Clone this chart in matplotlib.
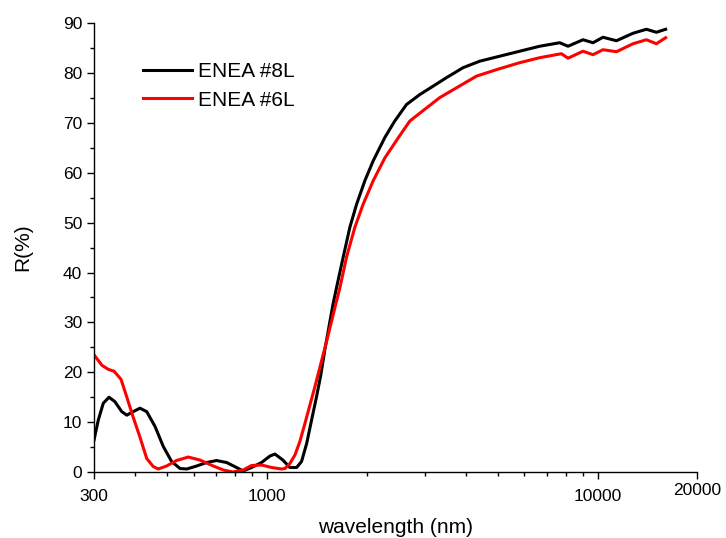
import matplotlib.pyplot as plt
from matplotlib.ticker import FixedLocator, NullFormatter
from matplotlib.transforms import ScaledTranslation

plt.rcParams['font.family'] = ['Liberation Sans', 'DejaVu Sans']

# ENEA #8L reflectance (wavelength nm, R %)
wl_8l = [300, 309, 320, 333, 347, 364, 377, 394, 413, 433, 459, 486, 515, 546,
         572, 613, 657, 704, 755, 809, 847, 898, 963, 1021, 1057, 1117, 1173,
         1229, 1272, 1318, 1364, 1412, 1455, 1496, 1582, 1623, 1700, 1781, 1866,
         1976, 2094, 2272, 2434, 2641, 2897, 3490, 3916, 4399, 5054, 5809, 6677,
         7674, 8130, 9025, 9674, 10370, 11390, 12780, 14030, 15040, 16040]
r_8l = [6.4, 10.4, 13.8, 15.0, 14.1, 12.1, 11.4, 12.1, 12.8, 12.1, 9.1, 5.1, 2.1, 0.7,
        0.6, 1.2, 1.9, 2.3, 1.9, 0.9, 0.2, 0.9, 1.9, 3.2, 3.6, 2.4, 0.9,
        0.9, 2.1, 5.7, 10.4, 15.1, 19.5, 24.5, 33.5, 37.0, 43.1, 49.1, 53.7,
        58.4, 62.4, 67.1, 70.4, 73.7, 75.7, 79.1, 81.1, 82.4, 83.4, 84.4, 85.4,
        86.1, 85.4, 86.7, 86.1, 87.2, 86.5, 88.0, 88.8, 88.2, 88.8]

# ENEA #6L reflectance
wl_6l = [300, 317, 331, 345, 362, 377, 394, 413, 433, 453, 469, 497, 533, 578, 627,
         688, 738, 789, 847, 898, 963, 1033, 1107, 1133, 1173, 1215, 1257, 1302,
         1348, 1396, 1517, 1605, 1662, 1740, 1844, 1953, 2094, 2272, 2492, 2703,
         3330, 4299, 4941, 5809, 6677, 7765, 8130, 9025, 9674, 10370, 11390,
         12780, 14030, 15040, 16040]
r_6l = [23.5, 21.4, 20.6, 20.2, 18.6, 15.0, 11.0, 7.0, 2.7, 1.1, 0.6, 1.2, 2.3, 3.0, 2.4,
        1.2, 0.4, 0.0, 0.4, 1.3, 1.4, 0.9, 0.6, 0.7, 1.7, 3.4, 6.1, 9.7,
        13.4, 17.1, 26.4, 33.0, 37.0, 43.1, 49.1, 53.7, 58.4, 63.0, 67.0, 70.4,
        75.1, 79.4, 80.7, 82.1, 83.1, 83.9, 83.0, 84.4, 83.7, 84.7, 84.3,
        85.9, 86.7, 85.9, 87.1]

x_ticks = [300, 1000, 10000, 20000]
x_minor = [400, 500, 600, 700, 800, 900, 2000, 3000, 4000, 5000, 6000, 7000, 8000, 9000]

fig = plt.figure(figsize=(7.26, 5.38), dpi=100)
ax = fig.add_axes([0.1295, 0.1227, 0.831, 0.834])

ax.plot(wl_8l, r_8l, color='black', lw=2.2, label='ENEA #8L')
ax.plot(wl_6l, r_6l, color='red', lw=2.2, label='ENEA #6L')

ax.set_xscale('log')
ax.set_xlim(300, 20000)
ax.set_ylim(0, 90)
ax.xaxis.set_major_locator(FixedLocator(x_ticks))
ax.xaxis.set_minor_locator(FixedLocator(x_minor))
ax.xaxis.set_minor_formatter(NullFormatter())
ax.set_xticklabels([str(t) for t in x_ticks])
ax.set_yticks(range(0, 91, 10))
ax.set_yticks(range(5, 90, 10), minor=True)

for side in ['top', 'right']:
    ax.spines[side].set_visible(False)
for side in ['left', 'bottom']:
    ax.spines[side].set_linewidth(1.0)

ax.tick_params(which='major', direction='out', length=5, width=1, labelsize=12.5)
ax.tick_params(which='minor', direction='out', length=3, width=1)
ax.tick_params(axis='x', pad=7)

# the 20000 label sits a little higher in the original
lab = ax.get_xticklabels()[-1]
lab.set_transform(lab.get_transform() + ScaledTranslation(0, 4 / 72, fig.dpi_scale_trans))

ax.set_xlabel('wavelength (nm)', fontsize=15, labelpad=10)
ax.set_ylabel('R(%)', fontsize=15, labelpad=22)

ax.legend(loc='upper left', bbox_to_anchor=(0.05, 0.955), frameon=False,
          fontsize=15, handlelength=2.35, handletextpad=0.3, labelspacing=0.45)

fig.savefig('out.png', dpi=100)
